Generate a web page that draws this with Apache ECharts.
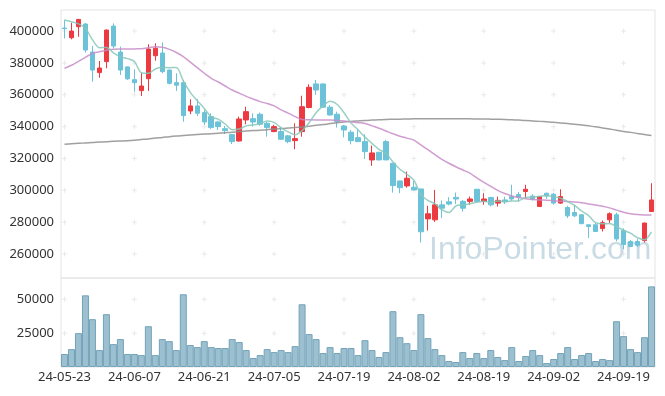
<!DOCTYPE html>
<html>
<head>
<meta charset="utf-8">
<script src="https://cdn.jsdelivr.net/npm/echarts@6/dist/echarts.min.js"></script>
<style>html,body{margin:0;padding:0;background:#fff}#c{width:665px;height:396px}</style>
</head>
<body>
<div id="c"></div>
<script>
const categories = [
 '24-05-23','24-05-24','24-05-27','24-05-28','24-05-29','24-05-30','24-05-31','24-06-03','24-06-04','24-06-05',
 '24-06-07','24-06-10','24-06-11','24-06-12','24-06-13','24-06-14','24-06-17','24-06-18','24-06-19','24-06-20',
 '24-06-21','24-06-24','24-06-25','24-06-26','24-06-27','24-06-28','24-07-01','24-07-02','24-07-03','24-07-04',
 '24-07-05','24-07-08','24-07-09','24-07-10','24-07-11','24-07-12','24-07-15','24-07-16','24-07-17','24-07-18',
 '24-07-19','24-07-22','24-07-23','24-07-24','24-07-25','24-07-26','24-07-29','24-07-30','24-07-31','24-08-01',
 '24-08-02','24-08-05','24-08-06','24-08-07','24-08-08','24-08-09','24-08-12','24-08-13','24-08-14','24-08-16',
 '24-08-19','24-08-20','24-08-21','24-08-22','24-08-23','24-08-26','24-08-27','24-08-28','24-08-29','24-08-30',
 '24-09-02','24-09-03','24-09-04','24-09-05','24-09-06','24-09-09','24-09-10','24-09-11','24-09-12','24-09-13',
 '24-09-19','24-09-20','24-09-23','24-09-24','24-09-25'
];
const openPrices = [
 401900,395800,402700,404400,386800,373900,380800,403100,386800,377500,
 369500,362600,370100,384500,386200,375500,367600,367600,349800,353000,
 348800,346300,342900,338700,335000,331000,344200,345000,347800,342100,
 336900,336900,334200,331200,336900,352000,366800,366800,352200,347800,
 340400,336500,333100,330600,319100,323900,330600,317000,305900,302800,
 302000,300900,282100,281500,290900,292800,295600,293100,293100,300700,
 293100,295500,292000,294000,296100,297400,299300,296400,289900,298200,
 297600,292000,289300,286100,284700,278400,278400,276000,281500,284700,
 274800,267900,267900,268500,286700
];
const closePrices = [
 401500,400000,407300,388100,375500,376800,400600,390600,375500,370000,
 367600,365500,388700,389200,374500,367200,366000,346900,353000,348400,
 342900,339400,340000,337500,330600,344800,349400,342900,341500,339400,
 340000,332100,330600,332500,352500,364700,363000,352200,347300,343100,
 337900,331200,330600,324300,323500,319100,319100,303000,301700,307600,
 300300,274000,285300,290900,288800,291400,294600,288800,294600,293100,
 294600,290900,293700,292800,294600,295700,300700,294600,296100,296500,
 292000,296100,284000,284000,279100,277300,274200,279700,285300,269500,
 266000,264800,265600,279500,294000
];
const lowPrices = [
 395400,394800,396400,386500,368200,370700,376600,389200,372400,369200,
 362000,359200,362400,381400,373500,366500,362400,343100,347800,346700,
 341100,338600,337900,335400,329100,330600,341500,340000,340600,333700,
 336500,331700,329600,325800,333700,351500,359900,352000,346900,339400,
 333300,328900,330300,319700,315400,318800,319000,298600,298200,301700,
 300000,267300,274800,280200,282600,290600,291500,286700,291000,293000,
 291000,290000,289900,291500,293400,292800,295100,293600,289500,294700,
 291000,291500,282600,283300,278800,270100,273900,274200,279500,268000,
 263100,264400,264400,267300,286500
];
const highPrices = [
 406900,405200,407500,405000,390600,381200,401000,404800,390200,377800,
 376000,373700,391700,392300,392900,375800,373500,369300,357200,357200,
 350500,348400,343600,340400,335400,346300,352500,348400,348800,342900,
 341100,340000,334800,342100,359400,366600,369300,367000,353600,349400,
 341100,337900,337900,335200,328100,324200,331700,317200,306000,311800,
 305900,301000,290300,300300,293600,295700,298600,294000,296100,300900,
 298200,296000,296100,296000,303500,299000,303500,297600,296500,298500,
 298300,300700,290300,290900,285000,278500,279500,281100,286200,286000,
 276200,268800,269400,279700,304500
];
const volumes = [
 9600,13200,25000,52900,35300,12500,39000,16900,20600,9600,
 9600,8800,30100,8800,20600,19100,12500,53700,16200,14700,
 19100,14700,14000,14000,20600,18400,12500,6600,8800,13200,
 11000,12500,11000,15400,46300,24300,20600,10300,14700,10300,
 14000,14000,8800,19800,12500,7400,11000,41200,22000,17600,
 12500,39000,21300,13200,8800,4400,3700,11000,6600,10300,
 6600,12500,7400,5100,14700,4400,8100,12500,8800,2900,
 5900,10300,14700,5900,8800,10300,4400,5900,5100,33800,
 22800,13200,11000,22000,59500
];
const ma5 = [
 406900,405800,404500,401700,394520,389540,389660,386320,383800,382700,
 380860,373840,373460,376200,377100,377020,377120,368760,361520,356300,
 351440,346120,344740,341640,338080,338460,340460,341040,341840,343600,
 342640,339180,336720,334920,337540,342480,348660,352980,355940,354060,
 348700,342340,338020,333420,329500,325740,323320,317800,313280,310100,
 306340,297320,293780,291620,287860,286080,290200,290900,291640,292500,
 293140,292400,293380,293020,293320,293540,295500,295680,296340,296720,
 295980,295060,292940,290520,287040,284100,279720,279000,279180,277260,
 275000,273120,270240,269080,273980
];
const ma20 = [
 376600,378500,381000,383500,386000,387000,388000,388500,388700,388700,
 388800,388900,389500,390200,389800,388500,386500,384000,380500,377000,
 373500,370300,368000,365500,363000,361000,359000,357300,355700,354500,
 353000,350500,348500,346300,344500,344300,344200,344200,344200,343900,
 343500,343000,342500,342000,340500,339000,337300,335500,334000,332800,
 331500,328500,325500,322500,319500,317000,314800,312800,310800,307800,
 305000,302500,300000,298000,296500,295500,294800,294300,294000,293800,
 293500,293200,293000,292700,292200,291500,290800,290000,289000,287600,
 286300,285300,284800,284600,284500
];
const ma120 = [
 329000,329300,329500,329800,330000,330300,330500,330800,331000,331200,
 331500,331900,332300,332800,333200,333700,334100,334400,334700,335000,
 335300,335600,335900,336200,336500,336900,337200,337500,337800,338100,
 338500,338800,339100,339500,339800,340300,340800,341300,341900,342500,
 342900,343300,343600,343900,344100,344300,344500,344600,344700,344800,
 344900,345000,345000,345000,345000,345000,344900,344900,344900,344800,
 344800,344700,344600,344500,344300,344100,343900,343600,343300,343000,
 342700,342300,341900,341500,341100,340500,339900,339200,338500,337800,
 337000,336400,335700,335000,334400
];
const crossCategories = ['24-05-23','24-06-07','24-06-21','24-07-05','24-07-19','24-08-02','24-08-19','24-09-02','24-09-19'];
const priceGridValues = [260000,280000,300000,320000,340000,360000,380000,400000];
const volumeGridValues = [25000,50000];

const UP = '#ec3a40', DOWN = '#6cc3d9';
const candleData = categories.map((c, i) => [openPrices[i], closePrices[i], lowPrices[i], highPrices[i]]);
const priceCrosses = [];
crossCategories.forEach(c => priceGridValues.forEach(v => priceCrosses.push([c, v])));
const volCrosses = [];
crossCategories.forEach(c => volumeGridValues.forEach(v => volCrosses.push([c, v])));
const plus = 'path://M0,2H5V3H0Z M2,0H3V5H2Z';
const plain = v => String(v);
const labelFont = { fontFamily: 'Noto Sans', fontSize: 13, color: '#333', formatter: plain };

const chart = echarts.init(document.getElementById('c'));
chart.setOption({
  animation: false,
  graphic: [{
    type: 'text', left: 429, top: 234, z: 0,
    style: { text: 'InfoPointer.com', font: '32px "Liberation Sans"', fill: '#c9dbe5' }
  }],
  grid: [
    { left: 61, right: 10, top: 10, height: 268, show: true, borderColor: '#e4e4e4', borderWidth: 1 },
    { left: 61, right: 10, top: 278, height: 89, show: true, borderColor: '#e4e4e4', borderWidth: 1 }
  ],
  xAxis: [
    { type: 'category', gridIndex: 0, data: categories, boundaryGap: true,
      axisLine: { show: false }, axisTick: { show: false }, axisLabel: { show: false }, splitLine: { show: false } },
    { type: 'category', gridIndex: 1, data: categories, boundaryGap: true,
      axisLine: { show: false }, axisTick: { show: false }, splitLine: { show: false },
      axisLabel: { interval: 9, margin: 4, fontFamily: 'Noto Sans', fontSize: 13, color: '#333' } }
  ],
  yAxis: [
    { type: 'value', gridIndex: 0, min: 245000, max: 413200, splitNumber: 8, scale: true,
      axisLine: { show: false }, axisTick: { show: false }, splitLine: { show: false },
      axisLabel: Object.assign({ margin: 7, showMinLabel: false, showMaxLabel: false }, labelFont) },
    { type: 'value', gridIndex: 1, min: 0, max: 65700, interval: 25000,
      axisLine: { show: false }, axisTick: { show: false }, splitLine: { show: false },
      axisLabel: Object.assign({ margin: 7, showMinLabel: false, showMaxLabel: false }, labelFont) }
  ],
  series: [
    { type: 'scatter', xAxisIndex: 0, yAxisIndex: 0, data: priceCrosses, symbol: plus, symbolSize: 5,
      itemStyle: { color: '#e3e3e3' }, silent: true, z: 1 },
    { type: 'scatter', xAxisIndex: 1, yAxisIndex: 1, data: volCrosses, symbol: plus, symbolSize: 5,
      itemStyle: { color: '#e3e3e3' }, silent: true, z: 1 },
    { type: 'candlestick', name: 'price', xAxisIndex: 0, yAxisIndex: 0, data: candleData, barWidth: 5,
      itemStyle: { color: UP, color0: DOWN, borderColor: UP, borderColor0: DOWN, borderWidth: 1 }, z: 3 },
    { type: 'line', name: 'MA120', xAxisIndex: 0, yAxisIndex: 0, data: ma120, symbol: 'none', smooth: 0.3,
      lineStyle: { color: '#8f8f8f', width: 1.5, opacity: 0.85 }, z: 4 },
    { type: 'line', name: 'MA20', xAxisIndex: 0, yAxisIndex: 0, data: ma20, symbol: 'none', smooth: 0.3,
      lineStyle: { color: '#c88cc8', width: 1.5, opacity: 0.85 }, z: 4 },
    { type: 'line', name: 'MA5', xAxisIndex: 0, yAxisIndex: 0, data: ma5, symbol: 'none', smooth: 0.3,
      lineStyle: { color: '#86c8b8', width: 1.5, opacity: 0.85 }, z: 4 },
    { type: 'bar', name: 'volume', xAxisIndex: 1, yAxisIndex: 1, data: volumes, barCategoryGap: '0%',
      itemStyle: { color: '#9cc0d0', borderColor: '#73a3b9', borderWidth: 1 }, z: 3 }
  ]
});
</script>
</body>
</html>
